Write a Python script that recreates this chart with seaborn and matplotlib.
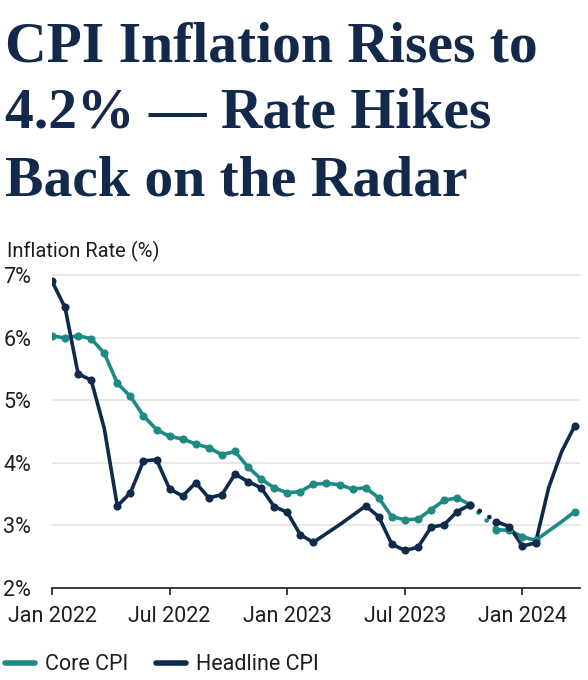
import numpy as np
import pandas as pd
import matplotlib
matplotlib.use('Agg')
import matplotlib.pyplot as plt
import seaborn as sns

# period index: the source chart plots 18 readings per year
period = list(range(41))

headline_cpi = [6.90, 6.48, 5.42, 5.32, 4.55, 3.31, 3.52, 4.03, 4.05, 3.58,
                3.47, 3.68, 3.44, 3.49, 3.82, 3.70, 3.60, 3.30, 3.21, 2.85,
                2.73, 2.87, 3.01, 3.16, 3.31, 3.14, 2.70, 2.60, 2.65, 2.97,
                3.01, 3.22, 3.33, np.nan, 3.06, 2.98, 2.67, 2.72, 3.60, 4.18,
                4.59]

core_cpi = [6.03, 5.99, 6.03, 5.98, 5.75, 5.27, 5.06, 4.75, 4.53, 4.42,
            4.38, 4.30, 4.24, 4.13, 4.18, 3.93, 3.74, 3.60, 3.52, 3.54,
            3.66, 3.67, 3.65, 3.58, 3.60, 3.44, 3.14, 3.09, 3.10, 3.25,
            3.40, 3.44, 3.33, np.nan, 2.93, 2.92, 2.82, 2.76, 2.91, 3.06,
            3.22]

# readings that the source marks with a dot
headline_marked = [0, 1, 2, 3] + list(range(5, 21)) + list(range(24, 33)) + [34, 35, 36, 37, 40]
core_marked = list(range(0, 33)) + [34, 35, 36, 37, 40]

tick_pos = [0, 9, 18, 27, 36]
tick_labels = ['Jan 2022', 'Jul 2022', 'Jan 2023', 'Jul 2023', 'Jan 2024']
y_ticks = [2, 3, 4, 5, 6, 7]

title_lines = ['CPI Inflation Rises to', '4.2% \u2014 Rate Hikes', 'Back on the Radar']

TEAL = '#1d8a83'
NAVY = '#0f2a4b'

df = pd.DataFrame({'period': period, 'Core CPI': core_cpi, 'Headline CPI': headline_cpi})

sns.set_theme(style='white')
plt.rcParams['font.family'] = ['Roboto', 'DejaVu Sans']

fig = plt.figure(figsize=(5.88, 6.8), dpi=100)
ax = fig.add_axes([0.0884, 0.1353, 0.8980, 0.4696])

for col, color, marked in [('Core CPI', TEAL, core_marked),
                           ('Headline CPI', NAVY, headline_marked)]:
    # solid segments (NaN splits the line)
    ax.plot(df['period'], df[col], color=color, lw=2.6, label=col,
            solid_joinstyle='round')
    dots = df[df['period'].isin(marked)]
    sns.scatterplot(data=dots, x='period', y=col, ax=ax, color=color, s=34,
                    linewidth=0, legend=False, zorder=3)
    # dotted bridge over the missing reading
    gap = df[(df['period'] == 32) | (df['period'] == 34)]
    sns.lineplot(data=gap, x='period', y=col, ax=ax, color=color, lw=3.4,
                 linestyle=(0, (0.01, 2.4)), dash_capstyle='round', legend=False)

ax.set_xlim(0, 40.4)
ax.set_ylim(2, 7.1)
ax.set_yticks(y_ticks)
ax.set_yticklabels([f'{v}%' for v in y_ticks])
ax.set_xticks(tick_pos)
ax.set_xticklabels(tick_labels)
ax.set_xlabel('')
ax.set_ylabel('')

ax.grid(axis='y', color='#e3e3e3', lw=1.2)
ax.grid(axis='x', visible=False)
for side in ['left', 'right', 'top']:
    ax.spines[side].set_visible(False)
ax.spines['bottom'].set_color('#2b2b2b')
ax.spines['bottom'].set_linewidth(1.3)
ax.tick_params(axis='x', bottom=True, length=5, width=1.3, color='#2b2b2b',
               pad=8, labelsize=15.5, labelcolor='#1e1e1e')
ax.tick_params(axis='y', left=False, pad=9, labelsize=15.5, labelcolor='#1e1e1e')

leg = ax.legend(loc='upper left', bbox_to_anchor=(0.008, 0.038),
                bbox_transform=fig.transFigure, ncol=2, frameon=False,
                fontsize=15.5, handlelength=1.4, handletextpad=0.45,
                columnspacing=1.3, borderpad=0, borderaxespad=0)
for h in leg.legend_handles:
    h.set_linewidth(4)
for t in leg.get_texts():
    t.set_color('#1e1e1e')

fig.text(0.012, 1 - 257 / 680, 'Inflation Rate (%)', fontsize=14.5,
         color='#1e1e1e', va='baseline', ha='left')

for i, line in enumerate(title_lines):
    fig.text(0.008, 1 - (61 + 67 * i) / 680, line, fontsize=41.5,
             family=['Liberation Serif', 'DejaVu Serif'], fontweight='bold',
             color='#13294b', va='baseline', ha='left')

fig.savefig('out.png', dpi=100)
